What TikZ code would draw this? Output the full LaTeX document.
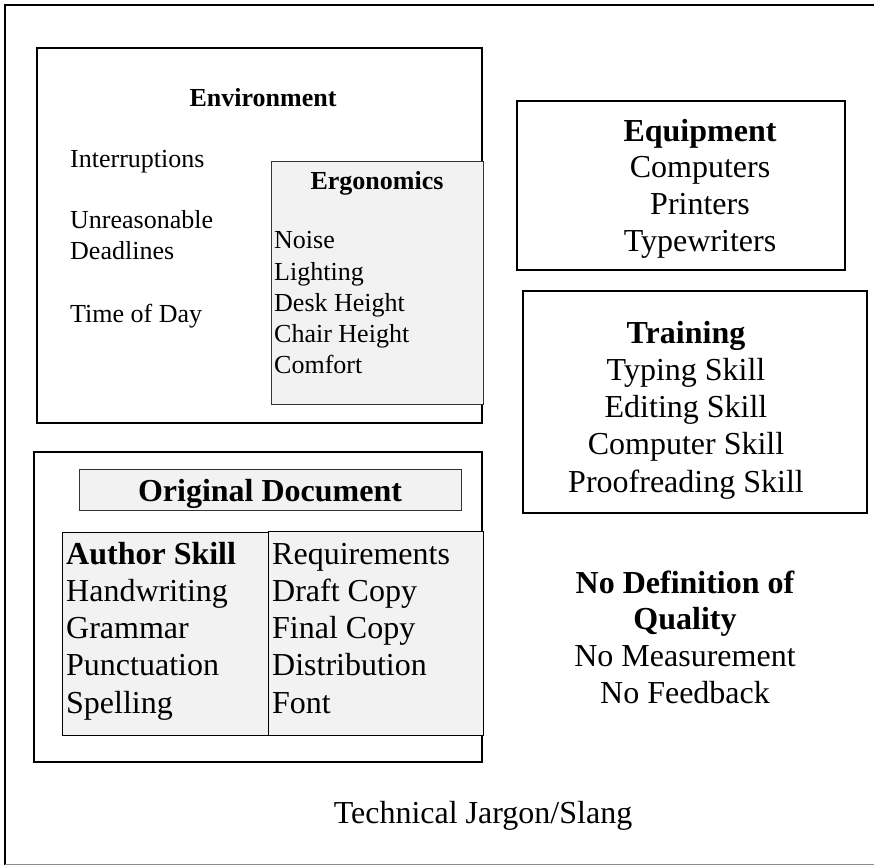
\documentclass[tikz,border=0pt]{standalone}
\usepackage{fontspec}
\setmainfont{Liberation Serif}
\definecolor{boxfill}{HTML}{F2F2F2}
\begin{document}
\begin{tikzpicture}[x=1pt,y=-1pt,
  heavy/.style={draw=black,line width=2.5pt},
  light/.style={draw=black!80,line width=1pt,fill=boxfill},
  small/.style={font=\fontsize{26}{31}\selectfont,inner sep=0pt},
  smallb/.style={font=\fontsize{26}{31}\selectfont\bfseries,inner sep=0pt},
  big/.style={font=\fontsize{32}{37}\selectfont,inner sep=0pt},
  bigb/.style={font=\fontsize{32}{37}\selectfont\bfseries,inner sep=0pt},
]
\useasboundingbox (0,0) rectangle (874,866);
% outer frame
\draw[line width=2pt] (874,5) -- (5,5) -- (5,864.5);
\draw[black!45,line width=1.5pt] (5,864.5) -- (874,864.5);

% Environment
\draw[heavy] (37,48) rectangle (482,423);
\draw[light] (271,162) rectangle (483,404);
\node[smallb,anchor=base] (env) at (263,107) {Environment};
\node[small,anchor=base west] (int) at (70,168) {Interruptions};
\node[small,anchor=base west] (unr) at (70,229) {Unreasonable};
\node[small,anchor=base west] (dead) at (70,259) {Deadlines};
\node[small,anchor=base west] (tod) at (70,322) {Time of Day};
\node[smallb,anchor=base] (ergo) at (377,190) {Ergonomics};
\node[small,anchor=base west] (noise) at (274,249) {Noise};
\node[small,anchor=base west] (light) at (274,280) {Lighting};
\node[small,anchor=base west] (desk) at (274,311) {Desk Height};
\node[small,anchor=base west] (chair) at (274,342) {Chair Height};
\node[small,anchor=base west] (comf) at (274,373) {Comfort};

% Original Document
\draw[heavy] (34,452) rectangle (482,762);
\draw[light] (79,469) rectangle (461,510);
\draw[light,draw=black] (62,532) rectangle (268,735);
\draw[light,draw=black] (268,531) rectangle (483,735);
\node[bigb,anchor=base] (orig) at (270,501) {Original Document};
\node[bigb,anchor=base west] (auth) at (66,564) {Author Skill};
\node[big,anchor=base west] (hand) at (66,601) {Handwriting};
\node[big,anchor=base west] (gram) at (66,638) {Grammar};
\node[big,anchor=base west] (punc) at (66,675) {Punctuation};
\node[big,anchor=base west] (spel) at (66,713) {Spelling};
\node[big,anchor=base west] (req) at (272,564) {Requirements};
\node[big,anchor=base west] (draft) at (272,601) {Draft Copy};
\node[big,anchor=base west] (final) at (272,638) {Final Copy};
\node[big,anchor=base west] (dist) at (272,675) {Distribution};
\node[big,anchor=base west] (font) at (272,713) {Font};

% Equipment
\draw[heavy] (517,101) rectangle (845,270);
\node[bigb,anchor=base] (equip) at (700,142) {Equipment};
\node[big,anchor=base] (comp) at (700,178) {Computers};
\node[big,anchor=base] (print) at (700,215) {Printers};
\node[big,anchor=base] (type) at (700,252) {Typewriters};

% Training
\draw[heavy] (523,291) rectangle (867,513);
\node[bigb,anchor=base] (train) at (686,343) {Training};
\node[big,anchor=base] (typs) at (686,380) {Typing Skill};
\node[big,anchor=base] (edit) at (686,417) {Editing Skill};
\node[big,anchor=base] (comps) at (686,454) {Computer Skill};
\node[big,anchor=base] (proof) at (686,492) {Proofreading Skill};

% No Definition of Quality
\node[bigb,anchor=base] (nodef) at (685,593) {No Definition of};
\node[bigb,anchor=base] (qual) at (685,629) {Quality};
\node[big,anchor=base] (nomeas) at (685,666) {No Measurement};
\node[big,anchor=base] (nofeed) at (685,703) {No Feedback};

% Technical Jargon
\node[big,anchor=base] (jarg) at (483,823) {Technical Jargon/Slang};
\end{tikzpicture}
\end{document}
